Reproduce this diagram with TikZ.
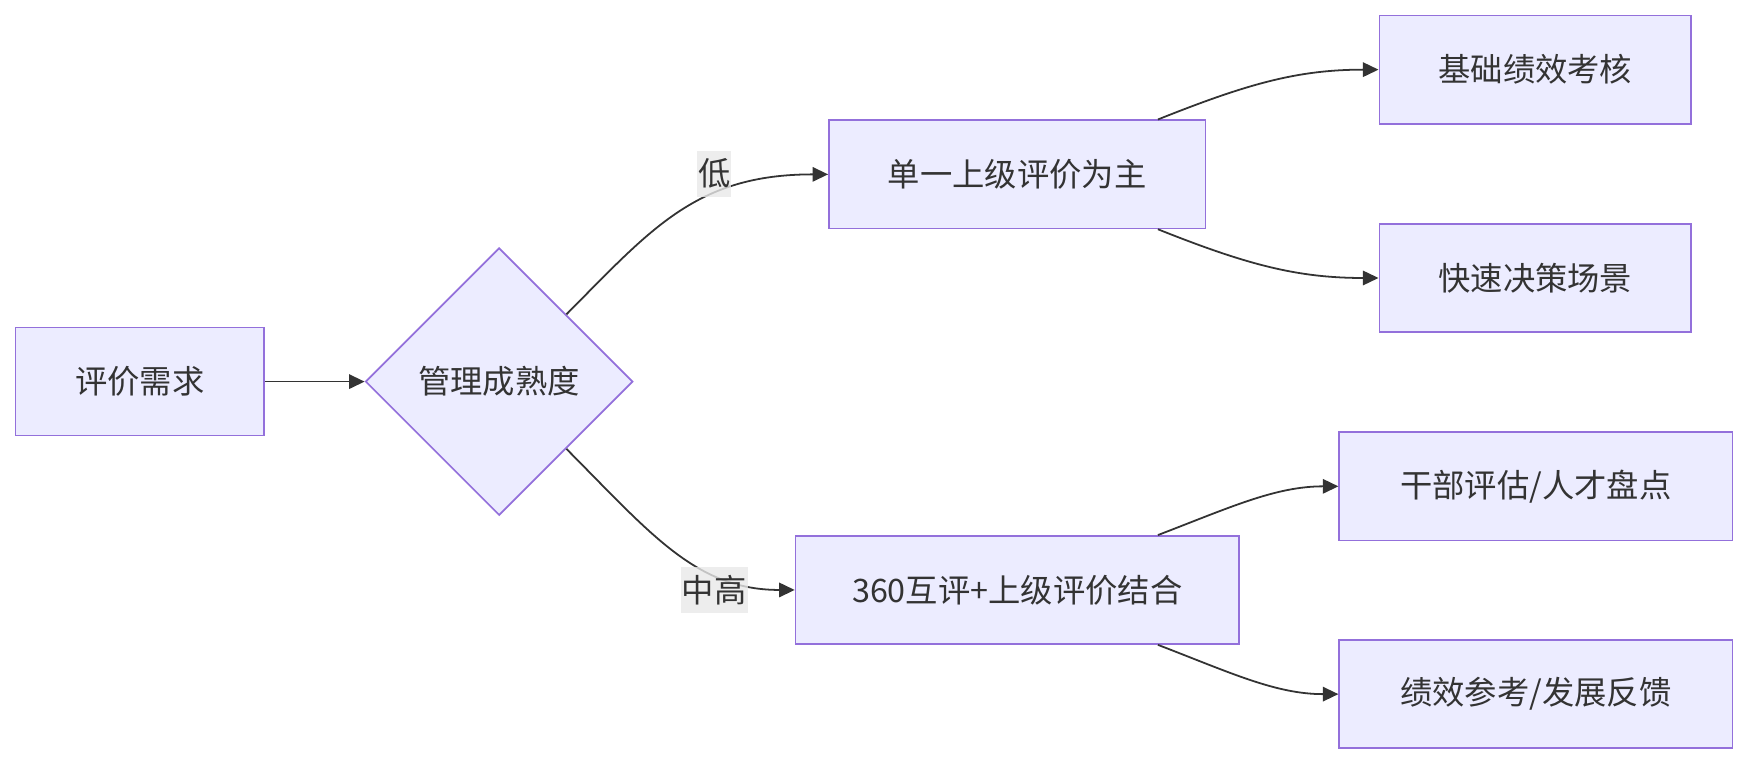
\documentclass[tikz,border=0pt]{standalone}
\usepackage{fontspec}
\setmainfont{Noto Sans CJK SC}
\usetikzlibrary{arrows.meta,shapes.geometric,calc}
\definecolor{nodefill}{HTML}{ECECFF}
\definecolor{nodeborder}{HTML}{9370DB}
\definecolor{edgecol}{HTML}{333333}
\definecolor{labelbg}{HTML}{E8E8E8}
\definecolor{txt}{HTML}{333333}
\begin{document}
\begin{tikzpicture}[x=1pt,y=-1pt,
  box/.style={draw=nodeborder,fill=nodefill,line width=1.5pt,minimum height=97pt,inner sep=0pt,text=txt,font=\fontsize{29}{35}\selectfont},
  dec/.style={box,shape=diamond,minimum width=240pt,minimum height=240pt},
  elabel/.style={fill=labelbg,fill opacity=0.8,text opacity=1,text=txt,inner xsep=1pt,inner ysep=7.5pt,font=\fontsize{29}{35}\selectfont},
  edge/.style={draw=edgecol,line width=1.6pt,-{Triangle[length=14pt,width=13pt]}}]
\useasboundingbox (0,0) rectangle (1568,686);
\node[box,minimum width=223pt] (A) at (125.5,342.5) {评价需求};
\node[dec] (dia) at (448,342.5) {管理成熟度};
\node[box,minimum width=338pt] (B) at (913,156.5) {单一上级评价为主};
\node[box,minimum width=398pt] (C) at (913,529.5) {360互评+上级评价结合};
\node[box,minimum width=280pt] (D) at (1378,62.5) {基础绩效考核};
\node[box,minimum width=280pt] (E) at (1378,249.5) {快速决策场景};
\node[box,minimum width=353pt] (F) at (1378.5,436.5) {干部评估/人才盘点};
\node[box,minimum width=353pt] (G) at (1378.5,623) {绩效参考/发展反馈};
\draw[edge] (A) -- (dia);
\draw[edge] (dia.north east) .. controls (585,205) and (625,156.5) .. (B.west);
\draw[edge] (dia.south east) .. controls (585,480) and (625,529.5) .. (C.west);
\draw[edge] ($(B.north west)+(296,0)$) .. controls (1120,75) and (1165,62.5) .. (D.west);
\draw[edge] ($(B.south west)+(296,0)$) .. controls (1120,238) and (1165,249.5) .. (E.west);
\draw[edge] ($(C.north west)+(326,0)$) .. controls (1105,455) and (1145,436.5) .. (F.west);
\draw[edge] ($(C.south west)+(326,0)$) .. controls (1105,604) and (1145,623) .. (G.west);
\node[elabel] (l1) at (641,156) {低};
\node[elabel] (l2) at (641,529.5) {中高};
\end{tikzpicture}
\end{document}
